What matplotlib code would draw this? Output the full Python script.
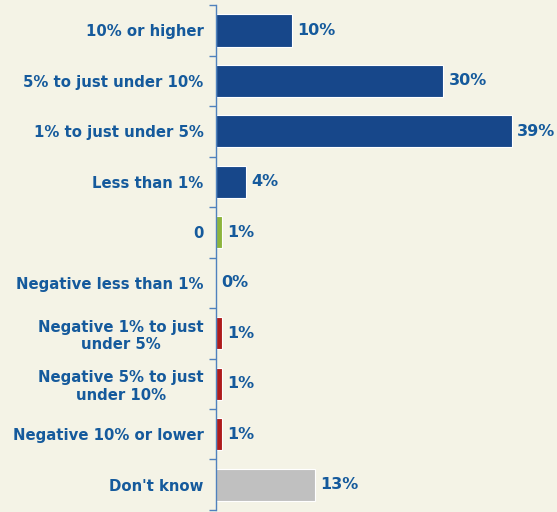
import numpy as np
import matplotlib
matplotlib.use('Agg')
import matplotlib.pyplot as plt

# --- data ---
categories = ['10% or higher', '5% to just under 10%', '1% to just under 5%',
              'Less than 1%', '0', 'Negative less than 1%',
              'Negative 1% to just\nunder 5%', 'Negative 5% to just\nunder 10%',
              'Negative 10% or lower', "Don't know"]
values = [10, 30, 39, 4, 0.8, 0, 0.8, 0.8, 0.8, 13]
value_labels = ['10%', '30%', '39%', '4%', '1%', '0%', '1%', '1%', '1%', '13%']

blue = '#17478a'
green = '#8db43c'
red = '#ae1b1b'
gray = '#c0c0c0'
bar_colors = [blue, blue, blue, blue, green, green, red, red, red, gray]
text_color = '#155a9c'
bg = '#f4f3e6'

fig = plt.figure(figsize=(5.57, 5.12), dpi=100, facecolor=bg)
ax = fig.add_axes([0.388, 0.004, 0.612, 0.986])
ax.set_facecolor(bg)

y = np.arange(len(categories))
ax.barh(y, values, height=0.64, color=bar_colors, edgecolor='white', linewidth=0.8)
ax.set_ylim(len(categories) - 0.5, -0.5)
ax.set_xlim(0, 45)

for yi, v, lab in zip(y, values, value_labels):
    ax.text(v + 0.7, yi, lab, va='center', ha='left', color=text_color,
            fontsize=11.5, fontweight='bold')

ax.set_yticks(y)
ax.set_yticklabels(categories, fontsize=10.7, fontweight='bold', color=text_color,
                   ha='right', multialignment='center')
ax.set_yticks(np.arange(len(categories) + 1) - 0.5, minor=True)
ax.tick_params(axis='y', which='major', length=0, pad=9)
ax.tick_params(axis='y', which='minor', length=5, color='#4f81bd', width=1)
ax.set_xticks([])

for s in ['top', 'right', 'bottom']:
    ax.spines[s].set_visible(False)
ax.spines['left'].set_color('#4f81bd')
ax.spines['left'].set_linewidth(1)

plt.savefig('out.png', dpi=100, facecolor=bg)
